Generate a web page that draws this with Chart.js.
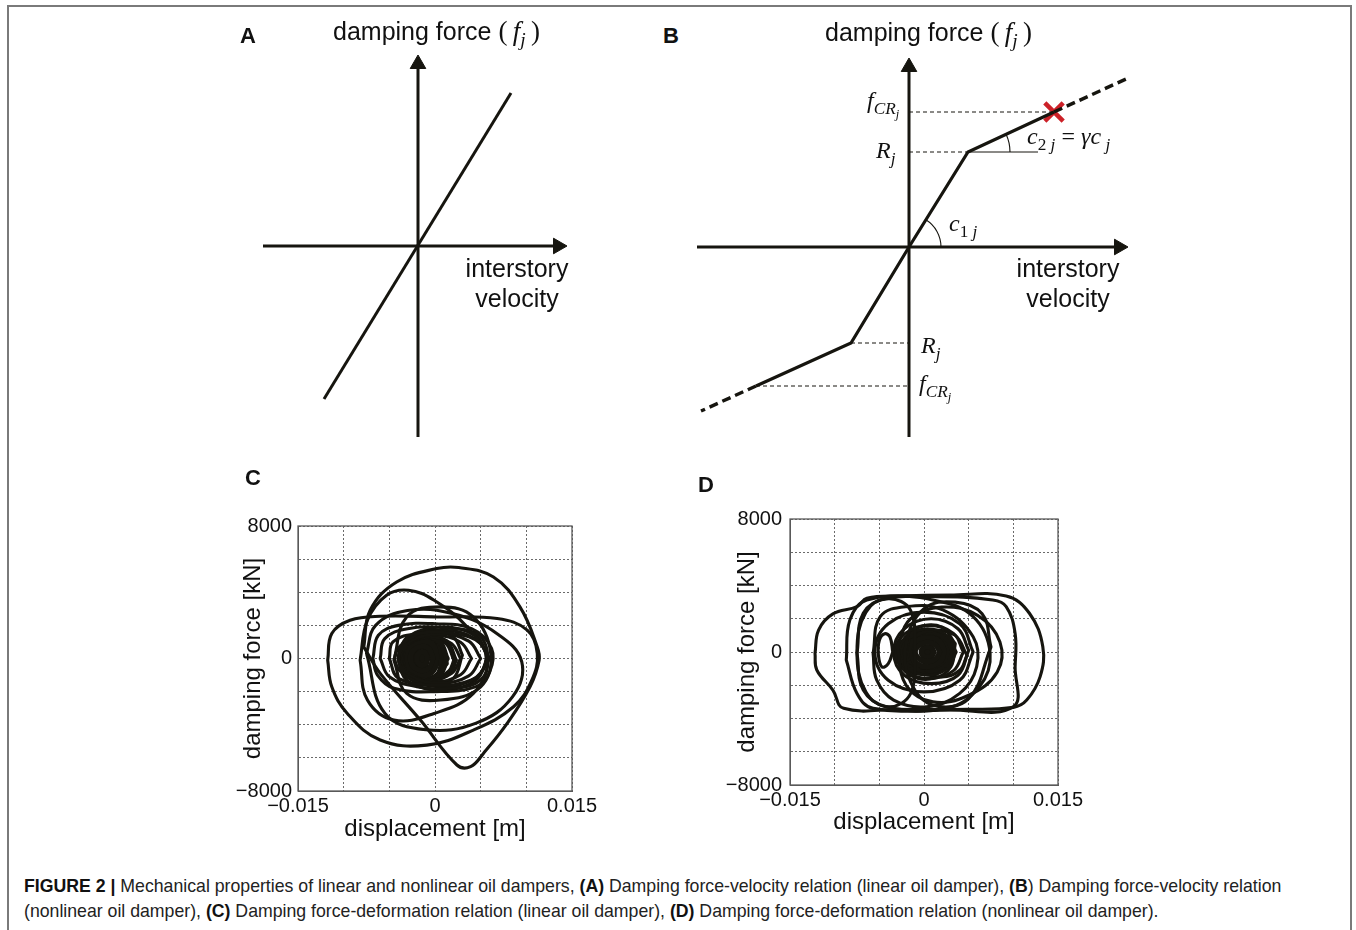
<!DOCTYPE html>
<html><head><meta charset="utf-8">
<script src="https://cdn.jsdelivr.net/npm/chart.js@4.4.1/dist/chart.umd.min.js"></script>
<style>
html,body{margin:0;padding:0;background:#fff;}
body{width:1356px;height:930px;position:relative;overflow:hidden;font-family:"Liberation Sans",Arial,sans-serif;color:#111;}
.frame{position:absolute;left:7px;top:5px;width:1341px;height:940px;border:2px solid #7a7a7a;border-bottom:none;}
canvas{position:absolute;}
.t{position:absolute;white-space:nowrap;line-height:1;color:#111;}
.sans{font-family:"Liberation Sans",Arial,sans-serif;font-size:25px;}
.panel{font-family:"Liberation Sans",Arial,sans-serif;font-weight:bold;font-size:22px;}
.ser{font-family:"Liberation Serif","DejaVu Serif",serif;font-style:normal;font-size:27px;}
.m{font-family:"Liberation Serif","DejaVu Serif",serif;font-style:italic;font-size:24px;}
.m .u{font-style:normal;}
sub{font-size:0.72em;vertical-align:-0.32em;line-height:0;}
sub sub{font-size:0.72em;vertical-align:-0.3em;}
.two{line-height:30px;text-align:center;}
.caption{position:absolute;left:24px;top:874px;font-size:17.7px;line-height:25px;color:#222;white-space:nowrap;}
.caption b{color:#111;}
</style></head><body>
<div class="frame"></div>

<canvas id="cA" width="360" height="410" style="left:228px;top:46px"></canvas>
<canvas id="cB" width="460" height="410" style="left:689px;top:47px"></canvas>
<canvas id="cC" width="377" height="350" style="left:225px;top:500px"></canvas>
<canvas id="cD" width="390" height="350" style="left:705px;top:495px"></canvas>

<div class="t panel" style="left:240px;top:25px">A</div>
<div class="t panel" style="left:663px;top:25px">B</div>
<div class="t panel" style="left:245px;top:467px">C</div>
<div class="t panel" style="left:698px;top:474px">D</div>

<div class="t sans" style="left:333px;top:18px">damping force <span class="ser">(&#8201;<i>f</i><sub><i>j</i></sub>&#8201;)</span></div>
<div class="t sans" style="left:825px;top:19px">damping force <span class="ser">(&#8201;<i>f</i><sub><i>j</i></sub>&#8201;)</span></div>
<div class="t sans two" style="left:462px;top:253px;width:110px">interstory<br>velocity</div>
<div class="t sans two" style="left:1013px;top:253px;width:110px">interstory<br>velocity</div>

<div class="t m" style="left:867px;top:88px"><i>f</i><sub>CR<sub>j</sub></sub></div>
<div class="t m" style="left:876px;top:138px">R<sub>j</sub></div>
<div class="t m" style="left:949px;top:211px">c<sub><span class="u">1</span> j</sub></div>
<div class="t m" style="left:1027px;top:124px">c<sub><span class="u">2</span> j</sub> <span class="u">=</span> γc<sub> j</sub></div>
<div class="t m" style="left:921px;top:333px">R<sub>j</sub></div>
<div class="t m" style="left:919px;top:371px"><i>f</i><sub>CR<sub>j</sub></sub></div>

<div class="caption"><b>FIGURE 2 |</b> Mechanical properties of linear and nonlinear oil dampers, <b>(A)</b> Damping force-velocity relation (linear oil damper), <b>(B</b>) Damping force-velocity relation<br>(nonlinear oil damper), <b>(C)</b> Damping force-deformation relation (linear oil damper), <b>(D)</b> Damping force-deformation relation (nonlinear oil damper).</div>

<script>
// ---------- Panel A: linear oil damper (schematic units) ----------
const aVelAxis = [-1.55, 1.40];     // horizontal axis (tail, arrow centre)
const aForceAxis = [-1.91, 1.82];   // vertical axis (tail, arrow centre)
const aLineVel = [-0.94, 0.93];
const aLineForce = [-1.53, 1.53];

// ---------- Panel B: nonlinear oil damper (schematic units) ----------
const bVelAxis = [-2.12, 2.10];
const bForceAxis = [-1.90, 1.80];
const bCurveVel = [-1.53, -0.58, 0, 0.59, 1.45];
const bCurveForce = [-1.39, -0.96, 0, 0.95, 1.35];
const bExtUpVel = [1.45, 2.17];
const bExtUpForce = [1.35, 1.68];
const bExtLoVel = [-1.53, -2.08];
const bExtLoForce = [-1.39, -1.64];
const bCritical = [1.45, 1.35];       // relief limit f_CR (red cross)
const bSlopeRefEnd = 1.29;            // end of horizontal reference for c2j

// ---------- Panels C, D axes ----------
const dispGrid = [-0.015, -0.01, -0.005, 0, 0.005, 0.01, 0.015];
const forceGrid = [-8000, -6000, -4000, -2000, 0, 2000, 4000, 6000, 8000];
const dispTicks = [-0.015, 0, 0.015];
const dispTickLabels = ['\u22120.015', '0', '0.015'];
const forceTicks = [-8000, 0, 8000];
const forceTickLabels = ['\u22128000', '0', '8000'];

// ---------- Panel C: linear damper hysteresis (displacement m, force kN) ----------
const cLoop1 = [[-0.0078,700],[-0.0071,2910],[-0.0042,4620],[0.0002,5430],[0.0026,5490],[0.0064,4920],[0.0093,3120],[0.0112,700],[0.0114,-100],[0.0104,-1710],[0.0079,-3920],[0.0053,-5730],[0.0039,-6530],[0.0024,-6430],[-0.0016,-3720],[-0.006,-900]];
const cLoop2 = [[-0.01175,-100],[-0.0113,1510],[-0.0093,2310],[-0.006,2550],[0.0002,2510],[0.0068,2410],[0.0101,1710],[0.0112,300],[0.0106,-1310],[0.0086,-2910],[0.0042,-4320],[-0.0009,-5230],[-0.006,-4920],[-0.0096,-3320],[-0.0113,-1710]];
const cLoop3 = [[-0.0082,-100],[-0.0074,2310],[-0.0053,3820],[-0.0029,4120],[-0.0001,3520],[0.0035,1910],[0.0057,-100],[0.0042,-2110],[-0.0001,-3320],[-0.0045,-3720],[-0.0074,-2510]];
const cLoop4 = [[-0.0045,-100],[-0.0031,2510],[0.0006,3120],[0.0042,2510],[0.0061,300],[0.005,-1710],[0.0006,-2510],[-0.0031,-2110]];
const cLoop5 = [[-0.0075,300],[-0.0065,2000],[-0.003,2900],[0.002,2700],[0.0068,1500],[0.0095,-200],[0.0085,-2300],[0.0045,-3900],[-0.001,-4300],[-0.0055,-3300]];
const cLoop6 = [[-0.0068,0],[-0.0062,1400],[-0.004,2000],[0,2100],[0.004,1800],[0.0062,600],[0.006,-800],[0.0045,-1700],[0,-2000],[-0.0045,-1800],[-0.0063,-1000]];
const cLoop7 = [[-0.006,0],[-0.0055,1200],[-0.003,1800],[0.001,1850],[0.0048,1400],[0.0058,0],[0.005,-1300],[0.002,-1800],[-0.002,-1700],[-0.005,-1100]];
const cLoop8 = [[-0.005,0],[-0.0046,1000],[-0.002,1500],[0.002,1500],[0.005,900],[0.0055,-300],[0.004,-1300],[0,-1600],[-0.004,-1200]];
const cRing1 = [[0.006,0],[0.0044,1190],[0.0008,1700],[-0.0028,1190],[-0.0044,0],[-0.0028,-1190],[0.0008,-1700],[0.0044,-1190]];
const cRing2 = [[0.005,0],[0.0037,1050],[0.0005,1500],[-0.0027,1050],[-0.004,0],[-0.0027,-1050],[0.0005,-1500],[0.0037,-1050]];
const cRing3 = [[0.004,0],[0.0028,980],[0,1400],[-0.0028,980],[-0.004,0],[-0.0028,-980],[0,-1400],[0.0028,-980]];
const cRing4 = [[0.0028,0],[0.0018,910],[-0.0005,1300],[-0.0028,910],[-0.0038,0],[-0.0028,-910],[-0.0005,-1300],[0.0018,-910]];
const cRing8 = [[0.0058,100],[0.0045,1350],[0.0008,1900],[-0.003,1300],[-0.0038,0],[-0.003,-1350],[0.001,-1900],[0.0045,-1300]];
const cRing9 = [[0.003,200],[0.002,1300],[-0.0005,1700],[-0.003,1200],[-0.004,100],[-0.003,-1100],[-0.0005,-1600],[0.002,-1200]];
const cCore1 = [[0.0013,0],[0.0005,1000],[-0.0012,1400],[-0.003,1000],[-0.0038,0],[-0.003,-1000],[-0.0012,-1400],[0.0005,-1000]];
const cCore2 = [[0.0008,200],[0.0002,1100],[-0.0015,1300],[-0.0032,800],[-0.0036,-200],[-0.0028,-1100],[-0.001,-1350],[0.0004,-900]];
const cCore3 = [[0.0004,0],[-0.0002,800],[-0.0014,1050],[-0.0028,700],[-0.0033,0],[-0.0027,-750],[-0.0013,-1050],[-0.0002,-750]];
const cCore4 = [[-0.0002,0],[-0.0006,550],[-0.0014,750],[-0.0023,550],[-0.0027,0],[-0.0023,-550],[-0.0014,-750],[-0.0006,-550]];
const cCore5 = [[-0.0008,0],[-0.001,300],[-0.0014,420],[-0.0018,300],[-0.002,0],[-0.0018,-300],[-0.0014,-420],[-0.001,-300]];
const cCore6 = [[0.0012,-300],[0.0004,700],[-0.001,1200],[-0.0026,1200],[-0.0036,400],[-0.0034,-700],[-0.002,-1300],[0,-1100]];
const cCore7 = [[-0.0005,400],[-0.0015,1100],[-0.0028,1000],[-0.0034,200],[-0.003,-600],[-0.0018,-1000],[-0.0006,-700],[-0.0002,-100]];
const cCore8 = [[-0.0012,0],[-0.0013,150],[-0.0015,200],[-0.0017,150],[-0.0018,0],[-0.0017,-150],[-0.0015,-200],[-0.0013,-150]];
const cCore9 = [[0.0022,-100],[0.0012,1000],[-0.0012,1300],[-0.003,700],[-0.0034,-200],[-0.0024,-1100],[0,-1250],[0.0016,-800]];
const cCore10 = [[0.0001,100],[-0.0004,650],[-0.0015,900],[-0.0026,600],[-0.003,-100],[-0.0024,-650],[-0.0013,-900],[-0.0003,-550]];
const cCore11 = [[-0.0013,0],[-0.0014,250],[-0.0017,330],[-0.002,250],[-0.0021,0],[-0.002,-250],[-0.0017,-330],[-0.0014,-250]];
const cCore12 = [[-0.0009,100],[-0.0012,500],[-0.0019,550],[-0.0024,150],[-0.0022,-400],[-0.0016,-550],[-0.001,-350]];

// ---------- Panel D: nonlinear damper hysteresis (displacement m, force kN) ----------
const dLoop1 = [[-0.0122,-80],[-0.0118,1320],[-0.0102,2290],[-0.0075,2730],[-0.0064,3230],[-0.0027,3370],[0.0029,3430],[0.0092,3370],[0.0118,2330],[0.0133,320],[0.013,-1480],[0.0115,-2890],[0.01,-3330],[0.0048,-3450],[-0.0027,-3450],[-0.009,-3390],[-0.0102,-2290],[-0.012,-1080]];
const dLoop2 = [[-0.0087,-480],[-0.0083,1920],[-0.0064,3130],[0.001,3330],[0.0077,3130],[0.0092,2730],[0.0102,1120],[0.0102,-880],[0.01,-3290],[0.0029,-3490],[-0.0057,-3390],[-0.0075,-2490]];
const dLoop3 = [[-0.0075,-80],[-0.0068,2330],[-0.0042,3230],[0.001,3130],[0.0055,2130],[0.0074,-80],[0.0062,-2090],[0.0025,-3390],[-0.0042,-3290],[-0.0068,-2290]];
const dLoop4 = [[-0.0057,-80],[-0.0049,2130],[-0.002,2730],[0.0021,2530],[0.0055,920],[0.0059,-880],[0.004,-2490],[0.0003,-3290],[-0.0034,-2890],[-0.0053,-1680]];
const dLoop5 = [[-0.003,300],[-0.0015,2000],[0.002,2700],[0.006,2200],[0.0085,600],[0.0082,-1200],[0.005,-2600],[0.001,-3000],[-0.002,-2000]];
const dLoop6 = [[0.0055,0],[0.004,1700],[0,2400],[-0.004,1700],[-0.0055,0],[-0.004,-1700],[0,-2400],[0.004,-1700]];
const dLoop7 = [[-0.0035,0],[-0.0038,900],[-0.0044,1100],[-0.005,700],[-0.0051,-200],[-0.0047,-900],[-0.004,-700]];
const dLoop8 = [[-0.001,0],[-0.0015,2500],[-0.004,3200],[-0.0065,2400],[-0.0075,0],[-0.0065,-2400],[-0.004,-3300],[-0.0015,-2500]];
const dLoop9 = [[0.0075,300],[0.0065,2300],[0.0035,3000],[0,2600],[-0.002,500],[-0.0015,-1800],[0.001,-3200],[0.005,-2800]];
const dRing1 = [[0.0044,0],[0.0033,1120],[0.0006,1600],[-0.0021,1120],[-0.0032,0],[-0.0021,-1120],[0.0006,-1600],[0.0033,-1120]];
const dRing2 = [[0.0036,0],[0.0026,980],[0.0004,1400],[-0.0018,980],[-0.0028,0],[-0.0018,-980],[0.0004,-1400],[0.0026,-980]];
const dRing6 = [[0.005,100],[0.0038,1400],[0.0008,2000],[-0.0022,1400],[-0.0034,0],[-0.0022,-1400],[0.0008,-1900],[0.0038,-1400]];
const dRing7 = [[0.0035,500],[0.002,1500],[-0.0005,1500],[-0.0025,600],[-0.003,-400],[-0.0015,-1400],[0.001,-1600],[0.003,-900]];
const dRing8 = [[0.0048,-200],[0.0035,1000],[0.001,1300],[-0.001,900],[-0.0015,-100],[-0.0005,-1100],[0.002,-1500],[0.004,-1100]];
const dCore1 = [[0.0033,0],[0.0024,880],[0.0003,1250],[-0.0018,880],[-0.0027,0],[-0.0018,-880],[0.0003,-1250],[0.0024,-880]];
const dCore2 = [[0.0029,150],[0.002,950],[0,1150],[-0.0018,700],[-0.0024,-200],[-0.0014,-1000],[0.0006,-1200],[0.0024,-700]];
const dCore3 = [[0.0024,0],[0.0017,650],[0.0004,900],[-0.0009,650],[-0.0016,0],[-0.0009,-650],[0.0004,-900],[0.0017,-650]];
const dCore4 = [[0.0018,0],[0.0013,420],[0.0004,600],[-0.0005,420],[-0.001,0],[-0.0005,-420],[0.0004,-600],[0.0013,-420]];
const dCore5 = [[0.0011,0],[0.0009,220],[0.0004,320],[-0.0001,220],[-0.0003,0],[-0.0001,-220],[0.0004,-320],[0.0009,-220]];
const dCore6 = [[0.0031,-300],[0.0025,700],[0.0008,1150],[-0.001,1000],[-0.0025,200],[-0.0022,-800],[-0.0005,-1250],[0.0018,-1000]];
const dCore7 = [[0.0021,300],[0.0012,800],[-0.0002,700],[-0.0012,100],[-0.001,-600],[0.0002,-900],[0.0016,-600]];
const dCore8 = [[0.0028,0],[0.002,760],[0.0004,1050],[-0.0012,760],[-0.002,0],[-0.0012,-760],[0.0004,-1050],[0.002,-760]];
const dCore9 = [[0.0007,0],[0.0006,90],[0.0004,130],[0.0002,90],[0.0001,0],[0.0002,-90],[0.0004,-130],[0.0006,-90]];

const cLoops = [cLoop1,cLoop2,cLoop3,cLoop4,cLoop5,cLoop6,cLoop7,cLoop8,cRing1,cRing2,cRing3,cRing4,cRing8,cRing9];
const cCores = [cCore1,cCore2,cCore3,cCore4,cCore5,cCore6,cCore7,cCore8,cCore9,cCore10,cCore11,cCore12];
const dLoops = [dLoop1,dLoop2,dLoop3,dLoop4,dLoop5,dLoop6,dLoop7,dLoop8,dLoop9,dRing1,dRing2,dRing6,dRing7,dRing8];
const dCores = [dCore1,dCore2,dCore3,dCore4,dCore5,dCore6,dCore7,dCore8,dCore9];

// ---------- rendering ----------
const INK = '#16150f';
const FONT = '"Liberation Sans", Arial, sans-serif';
const pts = (xs, ys) => xs.map((x, i) => ({x, y: ys[i]}));

function arrowAxis(xs, ys, rot) {
  return {data: pts(xs, ys), showLine: true, borderColor: INK, borderWidth: 3,
    pointRadius: c => c.dataIndex === 1 ? 9 : 0, pointStyle: 'triangle', pointRotation: rot,
    pointBackgroundColor: INK, pointBorderColor: INK, pointBorderWidth: 1, clip: false};
}
function seg(xs, ys, w, dash) {
  return {data: pts(xs, ys), showLine: true, borderColor: INK, borderWidth: w,
    borderDash: dash || [], pointRadius: 0, clip: false};
}
function schematic(id, xr, yr, datasets, plugins) {
  return new Chart(document.getElementById(id), {
    type: 'scatter', data: {datasets},
    options: {responsive: false, animation: false, devicePixelRatio: 1,
      layout: {padding: 0, autoPadding: false},
      plugins: {legend: {display: false}, tooltip: {enabled: false}},
      scales: {x: {type: 'linear', display: false, min: xr[0], max: xr[1]},
               y: {type: 'linear', display: false, min: yr[0], max: yr[1]}}},
    plugins: plugins || []
  });
}

// Panel A
schematic('cA', [-1.90, 1.70], [-2.10, 2.00], [
  arrowAxis(aVelAxis, [0, 0], 90),
  arrowAxis([0, 0], aForceAxis, 0),
  seg(aLineVel, aLineForce, 3)
]);

// Panel B
const arcPlugin = {
  id: 'arcs',
  afterDatasetsDraw(chart) {
    const {ctx, scales: {x, y}} = chart;
    const drawArc = (vx, vy, tx, ty, r) => {
      const px = x.getPixelForValue(vx), py = y.getPixelForValue(vy);
      const qx = x.getPixelForValue(tx), qy = y.getPixelForValue(ty);
      const ang = Math.atan2(qy - py, qx - px);
      ctx.save(); ctx.strokeStyle = INK; ctx.lineWidth = 1.1;
      ctx.beginPath(); ctx.arc(px, py, r, ang, 0); ctx.stroke(); ctx.restore();
    };
    drawArc(0, 0, bCurveVel[3], bCurveForce[3], 32);
    drawArc(bCurveVel[3], bCurveForce[3], bCurveVel[4], bCurveForce[4], 42);
  }
};
schematic('cB', [-2.20, 2.40], [-2.10, 2.00], [
  arrowAxis(bVelAxis, [0, 0], 90),
  arrowAxis([0, 0], bForceAxis, 0),
  seg([0, bCritical[0]], [bCritical[1], bCritical[1]], 1, [4, 3]),
  seg([0, bCurveVel[3]], [bCurveForce[3], bCurveForce[3]], 1, [4, 3]),
  seg([bCurveVel[3], bSlopeRefEnd], [bCurveForce[3], bCurveForce[3]], 1),
  seg([bCurveVel[1], 0], [bCurveForce[1], bCurveForce[1]], 1, [4, 3]),
  seg([bCurveVel[0], 0], [bCurveForce[0], bCurveForce[0]], 1, [4, 3]),
  seg(bCurveVel, bCurveForce, 3.2),
  seg(bExtUpVel, bExtUpForce, 3.4, [9, 5]),
  seg(bExtLoVel, bExtLoForce, 3.4, [9, 5]),
  {data: [{x: bCritical[0], y: bCritical[1]}], pointStyle: 'crossRot', pointRadius: 13,
   pointBorderWidth: 4.5, pointBorderColor: '#cc2128', pointBackgroundColor: '#cc2128', clip: false}
], [arcPlugin]);

// Panels C and D
const boxPlugin = {
  id: 'box',
  beforeDatasetsDraw(chart) {
    const {ctx, chartArea: a} = chart;
    ctx.save(); ctx.strokeStyle = '#5a5a5a'; ctx.lineWidth = 1.3;
    ctx.strokeRect(a.left, a.top, a.right - a.left, a.bottom - a.top); ctx.restore();
  }
};
const labelFor = (v, vals, labels) => {
  const i = vals.findIndex(t => Math.abs(t - v) < 1e-9 * Math.max(1, Math.abs(t)));
  return i >= 0 ? labels[i] : '';
};
const loopDs = (l, w) => ({
  data: l.concat([l[0]]).map(([x, y]) => ({x, y})), showLine: true, tension: 0.4,
  borderColor: INK, borderWidth: w, pointRadius: 0, borderJoinStyle: 'round', borderCapStyle: 'round'
});
function loopChart(id, loops, cores, g) {
  const datasets = loops.map(l => loopDs(l, 3.1)).concat(cores.map(l => loopDs(l, 5.5)));
  return new Chart(document.getElementById(id), {
    type: 'scatter', data: {datasets},
    options: {responsive: false, animation: false, devicePixelRatio: 1,
      layout: {padding: {top: g.padTop, right: g.padRight, left: 0, bottom: 0}, autoPadding: false},
      plugins: {legend: {display: false}, tooltip: {enabled: false}},
      scales: {
        x: {type: 'linear', position: 'bottom', min: -0.015, max: 0.015,
          afterBuildTicks: s => { s.ticks = dispGrid.map(v => ({value: v})); },
          ticks: {autoSkip: false, maxRotation: 0, padding: 3, color: '#111',
                  font: {family: FONT, size: 20}, callback: v => labelFor(v, dispTicks, dispTickLabels)},
          grid: {color: '#6a6a6a', lineWidth: 1, drawTicks: false},
          border: {display: true, color: '#5a5a5a', width: 1, dash: [2, 2]},
          title: {display: true, text: 'displacement [m]', color: '#111',
                  font: {family: FONT, size: 24}, padding: {top: 0, bottom: g.titlePadX}},
          afterFit: s => { s.height = g.xAxisH; }},
        y: {type: 'linear', position: 'left', min: -8000, max: 8000,
          afterBuildTicks: s => { s.ticks = forceGrid.map(v => ({value: v})); },
          ticks: {autoSkip: false, padding: g.tickPadY, color: '#111',
                  font: {family: FONT, size: 20}, callback: v => labelFor(v, forceTicks, forceTickLabels)},
          grid: {color: '#6a6a6a', lineWidth: 1, drawTicks: false},
          border: {display: true, color: '#5a5a5a', width: 1, dash: [2, 2]},
          title: {display: true, text: 'damping force [kN]', color: '#111',
                  font: {family: FONT, size: 24}, padding: {top: g.titlePadY, bottom: 0}},
          afterFit: s => { s.width = g.yAxisW; }}
      }},
    plugins: [boxPlugin]
  });
}
loopChart('cC', cLoops, cCores, {padTop: 26, padRight: 30, xAxisH: 59, yAxisW: 73, titlePadX: 6, titlePadY: 13.6, tickPadY: 6});
loopChart('cD', dLoops, dCores, {padTop: 24, padRight: 37, xAxisH: 60, yAxisW: 85, titlePadX: 8, titlePadY: 27.6, tickPadY: 8});
</script>
</body></html>
